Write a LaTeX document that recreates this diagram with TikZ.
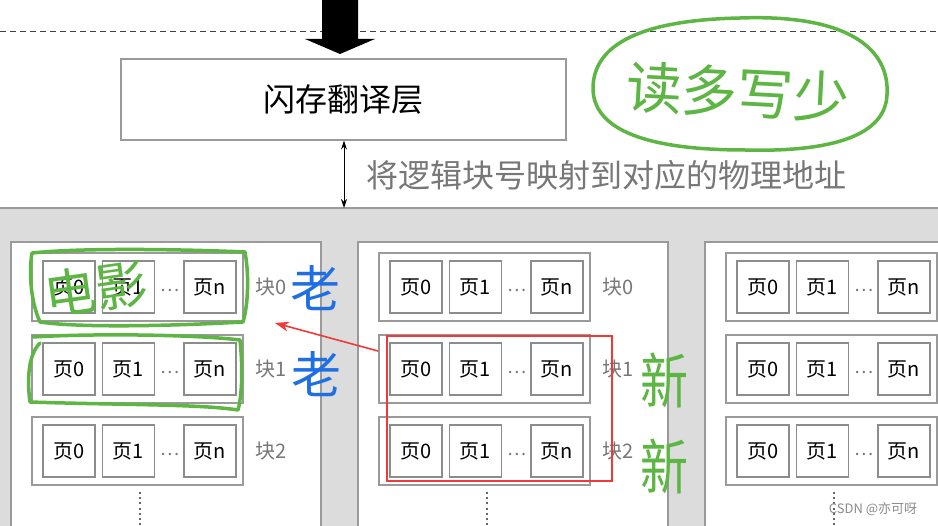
\documentclass[tikz,border=0pt]{standalone}
\usepackage{fontspec}
\setmainfont{Noto Sans CJK SC}
\usetikzlibrary{arrows.meta}
\definecolor{bggray}{HTML}{DCDCDC}
\definecolor{linegray}{HTML}{9A9A9A}
\definecolor{boxgray}{HTML}{8C8C8C}
\definecolor{labgray}{HTML}{777777}
\definecolor{hgreen}{HTML}{5DB543}
\definecolor{hblue}{HTML}{1F6FE3}
\definecolor{hred}{HTML}{F03A3A}
\tikzset{
  panelbox/.style={draw=linegray, line width=1.2pt, fill=white},
  rowbox/.style={draw=linegray, line width=1.2pt, fill=white, minimum width=211pt, minimum height=68pt, inner sep=0pt},
  pagebox/.style={draw=boxgray, line width=1.2pt, fill=white, minimum width=52pt, minimum height=52pt, inner sep=0pt, font=\fontsize{20}{20}\selectfont},
  blklabel/.style={text=labgray, font=\fontsize{20}{20}\selectfont, inner sep=0pt},
  hand/.style={draw=hgreen, line width=3.5pt, line cap=round, line join=round},
}
\begin{document}
\begin{tikzpicture}[x=1pt,y=-1pt]
\useasboundingbox (0,0) rectangle (938,526);
\begin{scope}
\clip (0,0) rectangle (938,526);
\fill[white] (0,0) rectangle (938,526);
% dashed line
\draw[dashed, dash pattern=on 6pt off 4pt, draw=black!75, line width=1pt] (0,32) -- (938,32);
% thick arrow
\fill[black] (322,0) -- (358,0) -- (358,39) -- (375,39) -- (340,54) -- (305,39) -- (322,39) -- cycle;
% translation layer
\node[draw=linegray, line width=1.2pt, fill=white, minimum width=445pt, minimum height=81pt, inner sep=0pt,
      font=\fontsize{32}{32}\selectfont] (ftl) at (343.5,99.5) {闪存翻译层};
% gray region
\fill[bggray] (0,208) rectangle (938,530);
\draw[linegray, line width=1.5pt] (0,208) -- (938,208);
\coordinate (gtop) at (344,208);
\draw[{Stealth[length=9pt,width=6pt]}-{Stealth[length=9pt,width=6pt]}, line width=1pt] (ftl.south -| gtop) -- (gtop);
\node[text=labgray, font=\fontsize{32}{32}\selectfont, anchor=west, inner sep=0pt] (maptext) at (366,175) {将逻辑块号映射到对应的物理地址};
% panels
\foreach \o/\p in {0/a,347/b,694/c}{
  \draw[panelbox] (11+\o,242) rectangle (321+\o,540);
  \foreach \r in {0,1,2}{
    \pgfmathsetmacro{\cy}{287+82*\r}
    \node[rowbox] (row-\p-\r) at (137.5+\o,\cy) {};
    \node[pagebox] (pg-\p-\r-0) at (69+\o,\cy) {页0};
    \node[pagebox] (pg-\p-\r-1) at (128.5+\o,\cy) {页1};
    \node[pagebox] (pg-\p-\r-n) at (210+\o,\cy) {页n};
    \node[text=labgray, font=\fontsize{18}{18}\selectfont, inner sep=0pt] (dots-\p-\r) at (170+\o,\cy+3) {\dots};
  }
  \draw[line width=2.2pt, dash pattern=on 2pt off 3.2pt, draw=black!60] (140+\o,492) -- (140+\o,530);
}
\foreach \o/\p in {0/a,347/b}{
  \foreach \r in {0,1,2}{
    \pgfmathsetmacro{\cy}{287+82*\r}
    \node[blklabel] (blk-\p-\r) at (271+\o,\cy) {块\r};
  }
}
\node[text=black!45, font=\fontsize{13}{13}\selectfont, inner sep=0pt] (wm) at (873,509) {CSDN @亦可呀};
% annotations
\draw[hand] (740,18) .. controls (850,14) and (890,50) .. (887,95)
  .. controls (885,140) and (820,152) .. (745,150)
  .. controls (660,150) and (595,135) .. (593,90)
  .. controls (592,45) and (640,20) .. (740,18) -- cycle;
\node[text=hgreen, font=\fontsize{56}{56}\selectfont, inner sep=0pt, rotate=-3] (dxs) at (738,92) {读多写少};
% green frame around block 0 (panel a)
\draw[hand] (32,253) .. controls (90,247) and (200,250) .. (245,252)
  .. controls (250,280) and (247,310) .. (243,322)
  .. controls (170,326) and (80,328) .. (40,322)
  .. controls (30,300) and (29,270) .. (32,253) -- cycle;
\node[text=hgreen, font=\fontsize{52}{52}\selectfont, inner sep=0pt, rotate=8] (dy) at (96,289) {电影};
% green frame around block 1 (panel a)
\draw[hand] (33,337) .. controls (100,333) and (200,335) .. (240,340)
  .. controls (243,370) and (242,395) .. (238,410)
  .. controls (200,404) and (120,405) .. (30,402)
  .. controls (27,380) and (28,355) .. (40,343);
% blue characters
\node[text=hblue, font=\fontsize{50}{50}\selectfont, inner sep=0pt] (lao0) at (315,288) {老};
\node[text=hblue, font=\fontsize{50}{50}\selectfont, inner sep=0pt] (lao1) at (316,374) {老};
% red rectangle and arrow
\draw[hred, line width=2pt] (387,336) rectangle (612,481);
\coordinate (rtail) at (378,351);
\coordinate (rtip) at (275,323);
\draw[hred, line width=1.6pt, -{Stealth[length=14pt,width=10pt]}] (rtail) -- (rtip);
% green 新
\node[text=hgreen, font=\fontsize{60}{60}\selectfont, inner sep=0pt, xscale=0.8] (xin0) at (664,380) {新};
\node[text=hgreen, font=\fontsize{60}{60}\selectfont, inner sep=0pt, xscale=0.8] (xin1) at (664,466) {新};
\end{scope}
\end{tikzpicture}
\end{document}
